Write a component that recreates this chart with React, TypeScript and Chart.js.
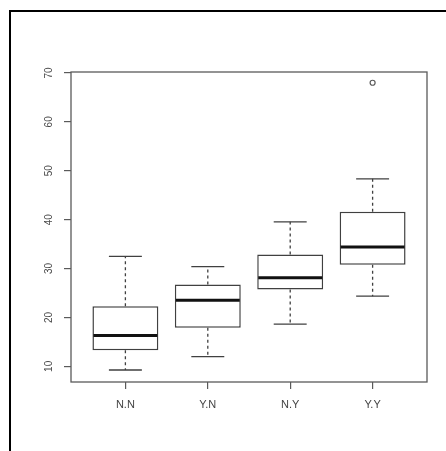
import React, { useEffect, useRef } from "react";
import { Chart, registerables } from "chart.js";

Chart.register(...registerables);

const categories = ["N.N", "Y.N", "N.Y", "Y.Y"];
const lowerWhisker = [9.25, 12.0, 18.65, 24.35];
const q1 = [13.3, 17.9, 25.7, 30.8];
const median = [16.3, 23.5, 28.1, 34.4];
const q3 = [22.3, 26.75, 32.9, 41.6];
const upperWhisker = [32.5, 30.4, 39.55, 48.35];
const outliers = [{ group: 4, value: 68.0 }];
const yTicks = [10, 20, 30, 40, 50, 60, 70];

const AXIS_COLOR = "#5a5a5a";
const BOX_COLOR = "#404040";

const rPlugin = {
  id: "rBoxplot",
  beforeDraw(chart: any) {
    const ctx = chart.ctx;
    ctx.save();
    ctx.fillStyle = "#ffffff";
    ctx.fillRect(0, 0, chart.width, chart.height);
    ctx.strokeStyle = "#000000";
    ctx.lineWidth = 2;
    ctx.beginPath();
    ctx.moveTo(10, chart.height);
    ctx.lineTo(10, 11);
    ctx.lineTo(chart.width, 11);
    ctx.stroke();
    ctx.restore();
  },
  afterDatasetsDraw(chart: any) {
    const ctx = chart.ctx;
    const xs = chart.scales.x;
    const ys = chart.scales.y;
    ctx.save();
    categories.forEach((_, i) => {
      const xv = i + 1;
      const cx = xs.getPixelForValue(xv);
      const capL = xs.getPixelForValue(xv - 0.2);
      const capR = xs.getPixelForValue(xv + 0.2);
      const boxL = xs.getPixelForValue(xv - 0.4);
      const boxR = xs.getPixelForValue(xv + 0.4);
      ctx.strokeStyle = BOX_COLOR;
      ctx.lineWidth = 1.3;
      ctx.setLineDash([3, 3]);
      ctx.beginPath();
      ctx.moveTo(cx, ys.getPixelForValue(q3[i]));
      ctx.lineTo(cx, ys.getPixelForValue(upperWhisker[i]));
      ctx.moveTo(cx, ys.getPixelForValue(q1[i]));
      ctx.lineTo(cx, ys.getPixelForValue(lowerWhisker[i]));
      ctx.stroke();
      ctx.setLineDash([]);
      ctx.beginPath();
      ctx.moveTo(capL, ys.getPixelForValue(upperWhisker[i]));
      ctx.lineTo(capR, ys.getPixelForValue(upperWhisker[i]));
      ctx.moveTo(capL, ys.getPixelForValue(lowerWhisker[i]));
      ctx.lineTo(capR, ys.getPixelForValue(lowerWhisker[i]));
      ctx.stroke();
      ctx.strokeStyle = "#111111";
      ctx.lineWidth = 3;
      ctx.beginPath();
      ctx.moveTo(boxL + 1, ys.getPixelForValue(median[i]));
      ctx.lineTo(boxR - 1, ys.getPixelForValue(median[i]));
      ctx.stroke();
    });
    const a = chart.chartArea;
    ctx.strokeStyle = AXIS_COLOR;
    ctx.lineWidth = 1.3;
    ctx.strokeRect(a.left, a.top, a.right - a.left, a.bottom - a.top);
    ctx.restore();
  },
};

export default function App() {
  const ref = useRef<HTMLCanvasElement | null>(null);
  useEffect(() => {
    if (!ref.current) return;
    const chart = new Chart(ref.current, {
      type: "bar",
      data: {
        datasets: [
          {
            type: "bar",
            data: categories.map((_, i) => ({ x: i + 1, y: [q1[i], q3[i]] })) as any,
            backgroundColor: "#ffffff",
            borderColor: BOX_COLOR,
            borderWidth: 1.5,
            borderSkipped: false,
            categoryPercentage: 1,
            barPercentage: 0.8,
          } as any,
          {
            type: "scatter",
            data: outliers.map((o) => ({ x: o.group, y: o.value })),
            pointStyle: "circle",
            pointRadius: 2.5,
            pointBorderWidth: 1.2,
            borderColor: AXIS_COLOR,
            backgroundColor: "rgba(0,0,0,0)",
          } as any,
        ],
      },
      options: {
        animation: false,
        responsive: false,
        events: [],
        layout: { padding: { left: 0, top: 72, right: 19, bottom: 0 } },
        plugins: { legend: { display: false }, tooltip: { enabled: false } },
        scales: {
          x: {
            type: "linear",
            offset: false,
            min: 0.34,
            max: 4.66,
            afterFit: (s: any) => {
              s.height = 69;
            },
            border: { display: false },
            grid: {
              display: true,
              offset: false,
              drawOnChartArea: false,
              drawTicks: true,
              tickLength: 7,
              color: AXIS_COLOR,
              lineWidth: 1.2,
            },
            ticks: {
              stepSize: 1,
              includeBounds: false,
              autoSkip: false,
              maxRotation: 0,
              minRotation: 0,
              padding: 9,
              color: "#444444",
              font: { family: "'Liberation Sans', Arial, sans-serif", size: 11 },
              callback: (v: any) => {
                const idx = Math.round(Number(v)) - 1;
                return Number.isInteger(Number(v)) && categories[idx] ? categories[idx] : "";
              },
            },
          },
          y: {
            type: "linear",
            min: 6.8,
            max: 70.2,
            afterFit: (s: any) => {
              s.width = 71;
            },
            afterBuildTicks: (s: any) => {
              s.ticks = yTicks.map((v) => ({ value: v }));
            },
            border: { display: false },
            grid: {
              display: true,
              drawOnChartArea: false,
              drawTicks: true,
              tickLength: 7,
              color: AXIS_COLOR,
              lineWidth: 1.2,
            },
            ticks: {
              minRotation: 90,
              maxRotation: 90,
              crossAlign: "center",
              padding: 9,
              color: "#4a4a4a",
              font: { family: "'Liberation Sans', Arial, sans-serif", size: 10 },
            },
          },
        },
      },
      plugins: [rPlugin],
    } as any);
    return () => chart.destroy();
  }, []);
  return (
    <div style={{ position: "absolute", left: 0, top: 0, width: 446, height: 451 }}>
      <canvas ref={ref} width={446} height={451} style={{ display: "block" }} />
    </div>
  );
}
